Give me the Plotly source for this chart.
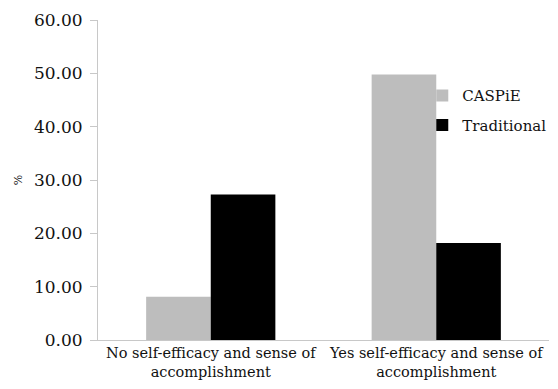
import plotly.graph_objects as go

# Survey responses (%), by group
categories = ["No self-efficacy and sense of<br>accomplishment",
              "Yes self-efficacy and sense of<br>accomplishment"]
caspie = [8.11, 49.80]
traditional = [27.27, 18.18]
y_ticks = [0, 10, 20, 30, 40, 50, 60]
y_tick_labels = ["0.00", "10.00", "20.00", "30.00", "40.00", "50.00", "60.00"]

FONT = "DejaVu Serif"
TEXT = "#111111"
AXIS_GREY = "#c8c8c8"

fig = go.Figure()
fig.add_trace(go.Bar(name="CASPiE", x=categories, y=caspie, legendgroup="caspie",
                     marker=dict(color="#bdbdbd", line=dict(width=0))))
fig.add_trace(go.Bar(name="Traditional", x=categories, y=traditional,
                     legendgroup="traditional",
                     marker=dict(color="#000000", line=dict(width=0))))

fig.update_layout(
    width=558, height=389,
    margin=dict(l=98, r=9, t=20, b=49, autoexpand=False),
    paper_bgcolor="white", plot_bgcolor="white",
    barmode="group", bargap=0.427, bargroupgap=0,
    font=dict(family=FONT, color=TEXT),
    showlegend=True,
    legend=dict(x=0.719, xanchor="left", y=0.815, yanchor="top",
                font=dict(size=15, family=FONT, color=TEXT),
                itemwidth=30, bgcolor="rgba(0,0,0,0)", tracegroupgap=7),
    xaxis=dict(showline=True, linecolor=AXIS_GREY, linewidth=1,
               ticks="", tickangle=0, automargin=False,
               tickfont=dict(size=14.5, family=FONT, color=TEXT),
               showgrid=False, zeroline=False),
    yaxis=dict(range=[0, 60], tickvals=y_ticks, ticktext=y_tick_labels,
               automargin=False,
               showline=True, linecolor=AXIS_GREY, linewidth=1,
               ticks="outside", ticklen=7, tickcolor=AXIS_GREY,
               ticklabelstandoff=4,
               tickfont=dict(size=17, family=FONT, color=TEXT),
               showgrid=False, zeroline=False),
    annotations=[dict(text="%", textangle=-90, xref="paper", yref="paper",
                      x=-0.177, y=0.5, xanchor="center", yanchor="middle",
                      showarrow=False,
                      font=dict(size=11, family=FONT, color=TEXT))],
)

fig.write_html("out.html")
